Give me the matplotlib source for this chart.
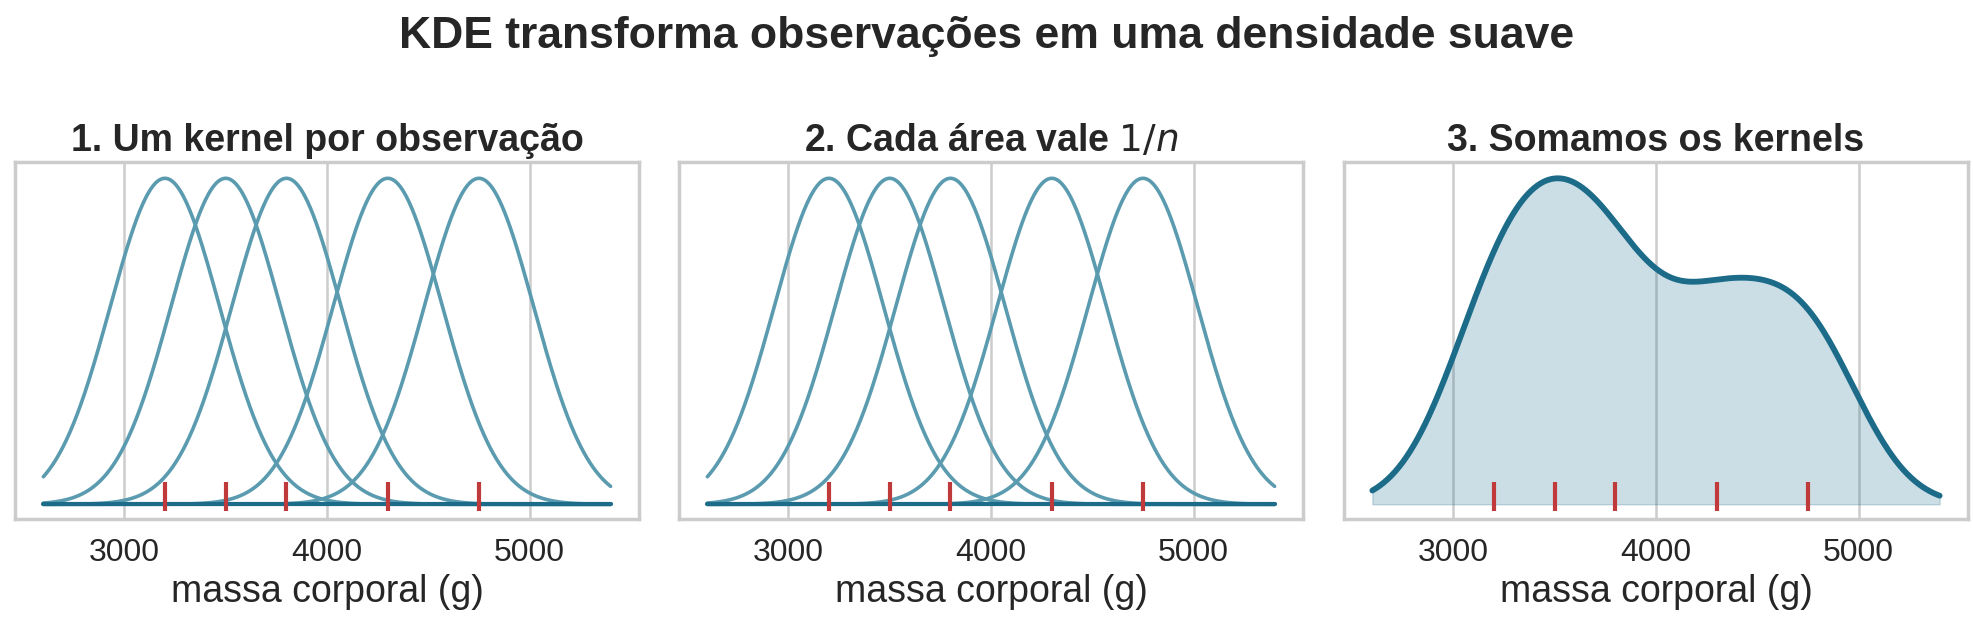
import numpy as np
import matplotlib
matplotlib.use("Agg")
import matplotlib.pyplot as plt
import seaborn as sns

sns.set_theme(style="whitegrid")
plt.rcParams['font.family'] = ['Liberation Sans', 'DejaVu Sans']

obs = [3200, 3500, 3800, 4300, 4750]
bw = 270
xticks = [3000, 4000, 5000]
titles = ["1. Um kernel por observação", "2. Cada área vale $1/n$", "3. Somamos os kernels"]
xlabel = "massa corporal (g)"
suptitle = "KDE transforma observações em uma densidade suave"

x = np.linspace(2600, 5400, 600)
kern = [np.exp(-0.5 * ((x - o) / bw) ** 2) / (bw * np.sqrt(2 * np.pi)) for o in obs]
n = len(obs)
dens = sum(kern) / n

kcol = "#5b9bb0"
dcol = "#1b6b89"
rcol = "#c0393b"

fig = plt.figure(figsize=(19.74, 6.36), dpi=100)
lefts = [15, 679, 1344]
axes = [fig.add_axes([l / 1974, 1 - 519 / 636, 624 / 1974, 357 / 636]) for l in lefts]

for i, ax in enumerate(axes):
    if i < 2:
        for k in kern:
            ax.plot(x, k, color=kcol, lw=2.6)
        top = kern[0].max()
        ax.plot(x, np.zeros_like(x), color=dcol, lw=3)
    else:
        ax.fill_between(x, 0, dens, color=dcol, alpha=0.22)
        ax.plot(x, dens, color=dcol, lw=4.2)
        top = dens.max()
    rug = 0.07 * top
    ax.vlines(obs, -0.02 * top, rug, color=rcol, lw=3, zorder=5)
    ax.set_ylim(-0.045 * top, 1.05 * top)
    ax.set_xlim(2460, 5540)
    ax.set_xticks(xticks)
    ax.set_yticks([])
    ax.grid(axis='y', visible=False)
    ax.grid(axis='x', color='#cccccc', lw=1.8)
    for s in ax.spines.values():
        s.set_color('#cccccc')
        s.set_linewidth(2.5)
    ax.tick_params(axis='x', labelsize=23, colors='#262626', pad=8)
    ax.set_xlabel(xlabel, fontsize=27, color='#262626')
    ax.set_title(titles[i], fontsize=27, fontweight='bold', color='#262626', pad=8)

fig.suptitle(suptitle, fontsize=32, fontweight='bold', color='#262626', y=0.975)
fig.savefig("out.png", dpi=100)
